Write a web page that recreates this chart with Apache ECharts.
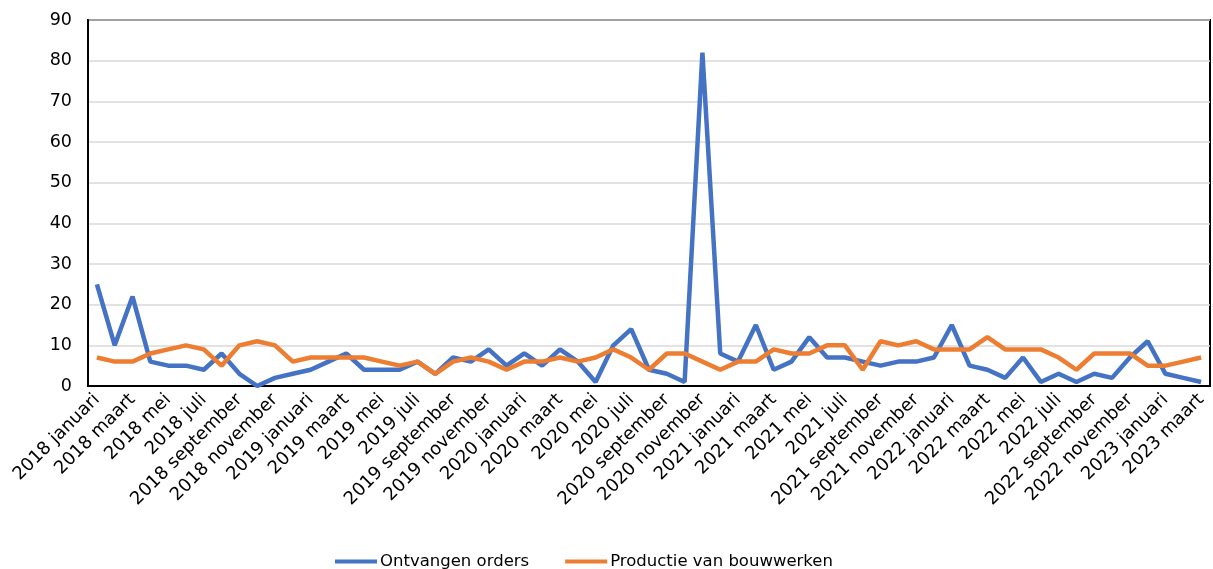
<!DOCTYPE html>
<html><head><meta charset="utf-8">
<script src="https://cdn.jsdelivr.net/npm/echarts@6/dist/echarts.min.js"></script>
<style>html,body{margin:0;padding:0;background:#fff}#c{width:1213px;height:569px}</style>
</head><body><div id="c"></div>
<script>
const maanden = ['januari','februari','maart','april','mei','juni','juli','augustus','september','oktober','november','december'];
const categories = [];
for (let y = 2018; y <= 2023; y++) for (let m = 0; m < 12; m++) { if (y === 2023 && m > 2) break; categories.push(y + ' ' + maanden[m]); }
const ontvangenOrders = [25,10,22,6,5,5,4,8,3,0,2,3,4,6,8,4,4,4,6,3,7,6,9,5,8,5,9,6,1,10,14,4,3,1,82,8,6,15,4,6,12,7,7,6,5,6,6,7,15,5,4,2,7,1,3,1,3,2,7,11,3,2,1];
const productieBouwwerken = [7,6,6,8,9,10,9,5,10,11,10,6,7,7,7,7,6,5,6,3,6,7,6,4,6,6,7,6,7,9,7,4,8,8,6,4,6,6,9,8,8,10,10,4,11,10,11,9,9,9,12,9,9,9,7,4,8,8,8,5,5,6,7];
const yTicks = {min:0, max:90, interval:10};
const chart = echarts.init(document.getElementById('c'));
const font = 'Verdana, "DejaVu Sans", sans-serif';
chart.setOption({
  animation:false,
  grid:{left:88,right:3,top:20,bottom:183,show:true,borderColor:'#000',borderWidth:2,backgroundColor:'transparent'},
  legend:{top:548,left:330,itemWidth:42,itemHeight:4,itemGap:36,icon:'rect',
    textStyle:{fontFamily:font,fontSize:16.5,color:'#000',padding:[0,0,0,-2]},
    data:['Ontvangen orders','Productie van bouwwerken']},
  xAxis:{type:'category',data:categories,boundaryGap:true,
    axisLine:{show:true,lineStyle:{color:'#000',width:2}},axisTick:{show:false},
    axisLabel:{interval:1,rotate:45,fontFamily:font,fontSize:18,color:'#000',margin:11}},
  yAxis:{type:'value',min:yTicks.min,max:yTicks.max,interval:yTicks.interval,
    axisLine:{show:true,lineStyle:{color:'#000',width:2}},axisTick:{show:false},
    splitLine:{lineStyle:{color:'#d9d9d9',width:1.5}},
    axisLabel:{fontFamily:font,fontSize:17.5,color:'#000',margin:16}},
  series:[
    {name:'Ontvangen orders',type:'line',data:ontvangenOrders,symbol:'none',lineStyle:{color:'#4472C4',width:4.5},itemStyle:{color:'#4472C4'}},
    {name:'Productie van bouwwerken',type:'line',data:productieBouwwerken,symbol:'none',lineStyle:{color:'#ED7D31',width:4.5},itemStyle:{color:'#ED7D31'}}
  ]
});
</script></body></html>
